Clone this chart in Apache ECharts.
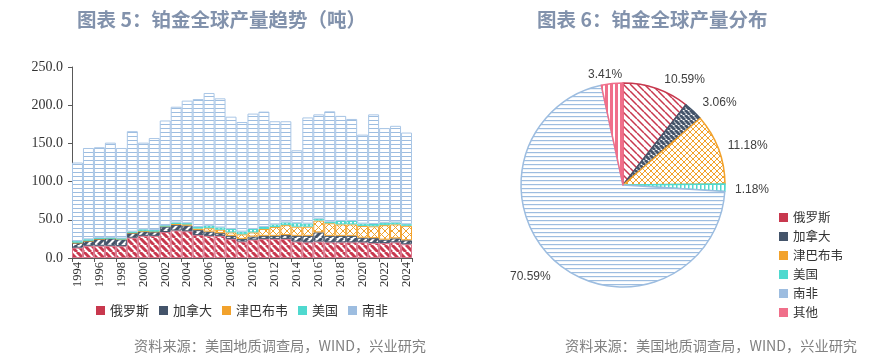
<!DOCTYPE html>
<html><head><meta charset="utf-8">
<script src="https://cdn.jsdelivr.net/npm/echarts@6.0.0/dist/echarts.min.js"></script>
<style>html,body{margin:0;padding:0;background:#fff}#c{width:887px;height:361px}</style>
</head><body><div id="c"></div>
<script>
const years = ['1994','1995','1996','1997','1998','1999','2000','2001','2002','2003','2004','2005','2006','2007','2008','2009','2010','2011','2012','2013','2014','2015','2016','2017','2018','2019','2020','2021','2022','2023','2024'];
const russia = [13.5,16,16,16,15.5,26.5,29,29,34,36,35,30,29,29,25,21.5,24,25,25,25,21.5,20.5,21.5,20.5,20.5,20.5,20.5,19.5,19.5,20.5,18];
const canada = [6.5,6.5,9,9.5,9,6.5,6,5.5,7,7.5,7.5,6.5,5.5,3.5,4,3.5,4,4,4,5,7.5,8.5,12,8.5,8.5,8.5,6,6.5,4.5,5.2,5.2];
const zimbabwe = [0,0,0,0,0,0,0,0,0.5,1,1.5,2,4.5,4.5,4.5,6,5.5,9,11.5,13,12,12,15.5,16.5,15,15,15.5,15.5,19,18.3,19];
const usa = [2,2,1,1,1,1.5,2.5,2,1,2,1.5,2,3.5,3,4.5,3.5,4.5,2.6,3.5,3.5,4.5,4,2.5,2,4.5,4.5,3,3,3,2.5,2];
const southAfrica = [103,119.5,119,124.5,118.5,131.5,113.5,120.5,137.5,151.5,160.5,167.5,173.5,169,147,143.5,151,151,135,132.5,95.5,139,136.5,144.5,137.5,133.5,116.5,143.5,124,126.5,120];
const seriesNames = ['俄罗斯','加拿大','津巴布韦','美国','南非'];
const pieNames = ['俄罗斯','加拿大','津巴布韦','美国','南非','其他'];
const pieShares = [10.59,3.06,11.18,1.18,70.59,3.41];

const C = {ru:'#C8384E', ca:'#44546A', zw:'#F2A22C', us:'#4FD9CF', sa:'#9DBDE0', ot:'#F06F8A'};
const pieColors = [C.ru, C.ca, C.zw, C.us, C.sa, C.ot];

function pat(size, bg, draw){
  const c = document.createElement('canvas'); c.width = size; c.height = size;
  const ctx = c.getContext('2d'); ctx.fillStyle = bg; ctx.fillRect(0,0,size,size);
  draw(ctx, size); return {image: c, repeat: 'repeat'};
}
function back(color, s, w, bg){ return pat(s, bg||'#fff', (ctx)=>{ctx.strokeStyle=color;ctx.lineWidth=w;ctx.beginPath();for(const k of [-s,0,s]){ctx.moveTo(k,0);ctx.lineTo(k+s,s);}ctx.stroke();}); }
function fwd(color, s, w, bg){ return pat(s, bg||'#fff', (ctx)=>{ctx.strokeStyle=color;ctx.lineWidth=w;ctx.beginPath();for(const k of [-s,0,s]){ctx.moveTo(k,s);ctx.lineTo(k+s,0);}ctx.stroke();}); }
function cross(color, s, w){ return pat(s, '#fff', (ctx)=>{ctx.strokeStyle=color;ctx.lineWidth=w;ctx.beginPath();for(const k of [-s,0,s]){ctx.moveTo(k,0);ctx.lineTo(k+s,s);ctx.moveTo(k,s);ctx.lineTo(k+s,0);}ctx.stroke();}); }
function horiz(color, s, w){ return pat(s, '#fff', (ctx)=>{ctx.fillStyle=color;ctx.fillRect(0,0,s,w);}); }
function vert(color, s, w){ return pat(s, '#fff', (ctx)=>{ctx.fillStyle=color;ctx.fillRect(0,0,w,s);}); }

const barFill = [back(C.ru,7,3), fwd(C.ca,7,3), cross(C.zw,7,1), vert(C.us,4,2), horiz(C.sa,4,1)];
const barData = [russia, canada, zimbabwe, usa, southAfrica];
const barBorder = ['#D9738A', C.ca, C.zw, C.us, '#A9C6E6'];
const pieFill = [back(C.ru,7,1.5), back(C.ca,5,3,'#fff'), cross(C.zw,6,1), vert(C.us,4,1.5), horiz(C.sa,4,1.2), vert(C.ot,5,3)];
const labelDx = [0,-2,-4,-4,5,16];
const labelDy = [0,-2,0,2,8,0];

const chart = echarts.init(document.getElementById('c'), null, {renderer:'canvas'});
const titleStyle = {fontSize:19.5, fontWeight:'bold', color:'#8292AC', fontFamily:'Noto Sans CJK SC'};
const footStyle = {fontSize:14.2, fontWeight:'normal', color:'#808080', fontFamily:'Noto Sans CJK SC'};

chart.setOption({
  animation:false,
  title:[
    {text:'图表 5：铂金全球产量趋势（吨）', left:77, top:10, padding:0, textStyle:titleStyle},
    {text:'图表 6：铂金全球产量分布', left:537, top:10, padding:0, textStyle:titleStyle},
    {text:'资料来源：美国地质调查局，WIND，兴业研究', left:134, top:339, padding:0, textStyle:footStyle},
    {text:'资料来源：美国地质调查局，WIND，兴业研究', left:565, top:339, padding:0, textStyle:footStyle}
  ],
  legend:[
    {data: seriesNames.map((n,i)=>({name:n, icon:'rect', itemStyle:{color:[C.ru,C.ca,C.zw,C.us,C.sa][i], borderWidth:0}})),
     left:91, top:299, itemWidth:9, itemHeight:9, itemGap:10, selectedMode:false,
     textStyle:{fontSize:13, color:'#333', fontFamily:'Noto Sans CJK SC'}},
    {data: pieNames.map((n,i)=>({name:n, icon:'rect', itemStyle:{color:pieColors[i], borderWidth:0}})),
     orient:'vertical', left:774, top:206, itemWidth:9, itemHeight:9, itemGap:6, selectedMode:false,
     textStyle:{fontSize:12.5, lineHeight:13, color:'#333', fontFamily:'Noto Sans CJK SC'}}
  ],
  grid:{left:72, right:475, top:67, bottom:103},
  xAxis:{type:'category', data:years, boundaryGap:true,
    axisLine:{lineStyle:{color:'#595959', width:1}},
    axisTick:{show:true, interval:1, length:4, lineStyle:{color:'#595959'}},
    axisLabel:{interval:1, rotate:90, margin:4, fontFamily:'Liberation Serif', fontSize:12.5, color:'#333'}},
  yAxis:{type:'value', min:0, max:250, interval:50,
    axisLine:{show:true, lineStyle:{color:'#595959', width:1}},
    axisTick:{show:true, length:4, lineStyle:{color:'#595959'}},
    splitLine:{show:false},
    axisLabel:{formatter:v=>v.toFixed(1), margin:9, fontFamily:'Liberation Serif', fontSize:14, color:'#333'}},
  series:[
    ...seriesNames.map((n,i)=>({
      name:n, type:'bar', stack:'t', data:barData[i], barCategoryGap:'0%',
      itemStyle:{color:barFill[i], borderColor:barBorder[i], borderWidth:1}
    })),
    {type:'pie', center:[623,185], radius:102, startAngle:90, clockwise:true,
     data: pieNames.map((n,i)=>({name:n, value:pieShares[i], itemStyle:{color:pieFill[i], borderColor:pieColors[i], borderWidth:1.5}})),
     label:{show:true, position:'outside', formatter:p=>p.value.toFixed(2)+'%', fontSize:12, color:'#404040', fontFamily:'Liberation Sans'},
     labelLine:{show:false, length:9, length2:0},
     labelLayout:p=>({dx:labelDx[p.dataIndex], dy:labelDy[p.dataIndex]}),
     emphasis:{disabled:true}
    }
  ]
});
</script></body></html>
